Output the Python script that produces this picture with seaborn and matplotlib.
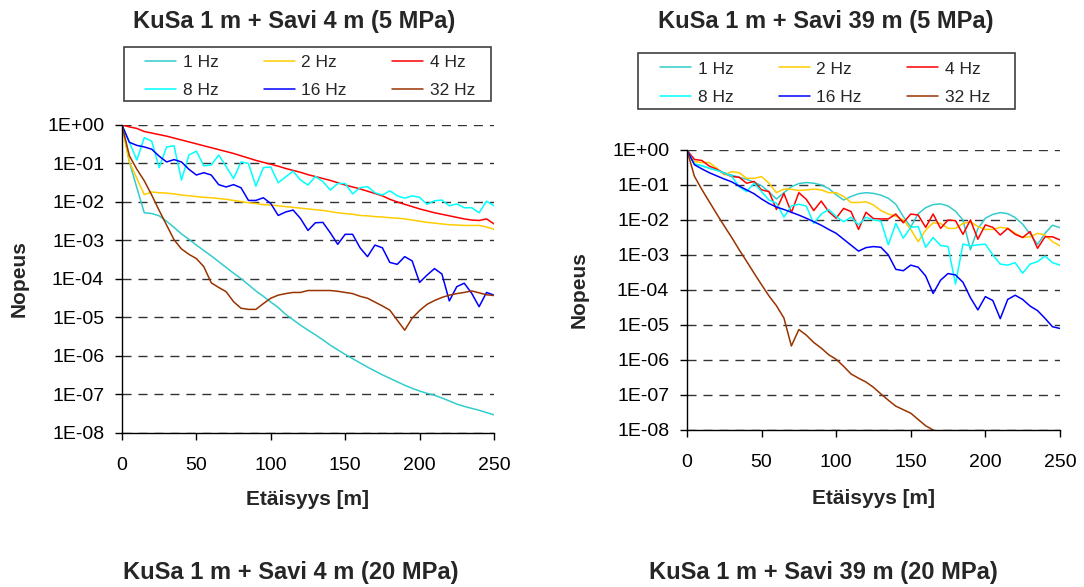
import numpy as np
import pandas as pd
import matplotlib
matplotlib.use("Agg")
import matplotlib.pyplot as plt
from matplotlib.patches import Rectangle
from matplotlib.ticker import FixedLocator, FuncFormatter, NullLocator
import seaborn as sns

# Etäisyys [m], 5 m välein
dist = list(range(0, 255, 5))
freqs = ["1 Hz", "2 Hz", "4 Hz", "8 Hz", "16 Hz", "32 Hz"]
colors = ["#33CCCC", "#FFCC00", "#FF0000", "#00FFFF", "#0000FF", "#993300"]

# log10(nopeus), KuSa 1 m + Savi 4 m (5 MPa)
a_1hz = [0.00, -0.96, -1.63, -2.28, -2.30, -2.36, -2.50, -2.66, -2.83, -2.97,
         -3.12, -3.26, -3.40, -3.55, -3.70, -3.85, -3.99, -4.15, -4.31, -4.45,
         -4.60, -4.74, -4.92, -5.06, -5.20, -5.33, -5.45, -5.58, -5.72, -5.84,
         -5.96, -6.07, -6.18, -6.29, -6.39, -6.49, -6.58, -6.67, -6.76, -6.84,
         -6.91, -6.97, -7.02, -7.09, -7.17, -7.25, -7.31, -7.36, -7.41, -7.47,
         -7.53]
a_2hz = [0.00, -0.96, -1.39, -1.81, -1.74, -1.76, -1.77, -1.79, -1.82, -1.84,
         -1.86, -1.88, -1.89, -1.91, -1.93, -1.96, -1.99, -2.02, -2.04, -2.07,
         -2.08, -2.10, -2.12, -2.14, -2.16, -2.18, -2.20, -2.22, -2.25, -2.28,
         -2.30, -2.32, -2.35, -2.36, -2.38, -2.39, -2.41, -2.42, -2.44, -2.47,
         -2.50, -2.53, -2.55, -2.57, -2.59, -2.60, -2.61, -2.61, -2.61, -2.65,
         -2.71]
a_4hz = [0.00, -0.05, -0.09, -0.17, -0.21, -0.25, -0.29, -0.34, -0.39, -0.44,
         -0.49, -0.54, -0.59, -0.64, -0.69, -0.74, -0.80, -0.86, -0.92, -0.97,
         -1.02, -1.07, -1.13, -1.18, -1.23, -1.29, -1.34, -1.39, -1.44, -1.50,
         -1.56, -1.61, -1.66, -1.72, -1.78, -1.84, -1.93, -2.00, -2.06, -2.12,
         -2.18, -2.23, -2.28, -2.32, -2.36, -2.40, -2.44, -2.47, -2.48, -2.44,
         -2.57]
a_8hz = [0.00, -0.45, -0.91, -0.33, -0.42, -1.11, -0.57, -0.54, -1.43, -0.78,
         -0.68, -1.06, -1.04, -0.78, -1.08, -1.39, -0.96, -1.00, -1.59, -1.11,
         -1.09, -1.50, -1.35, -1.20, -1.43, -1.56, -1.34, -1.47, -1.69, -1.52,
         -1.52, -1.79, -1.63, -1.60, -1.76, -1.82, -1.71, -1.84, -1.90, -1.84,
         -1.88, -2.06, -1.97, -1.95, -2.10, -2.05, -2.15, -2.15, -2.28, -1.98,
         -2.10]
a_16hz = [0.00, -0.45, -0.53, -0.57, -0.63, -0.81, -0.96, -0.90, -0.96, -1.15,
          -1.30, -1.24, -1.30, -1.55, -1.61, -1.55, -1.63, -1.96, -1.96, -1.89,
          -2.04, -2.35, -2.26, -2.21, -2.43, -2.74, -2.54, -2.53, -2.80, -3.10,
          -2.84, -2.84, -3.19, -3.42, -3.12, -3.19, -3.57, -3.62, -3.42, -3.53,
          -4.09, -3.90, -3.73, -3.87, -4.57, -4.20, -4.11, -4.37, -4.72, -4.35,
          -4.42]
a_32hz = [0.00, -0.80, -1.15, -1.45, -1.82, -2.22, -2.60, -2.98, -3.22, -3.36,
          -3.47, -3.68, -4.10, -4.22, -4.33, -4.59, -4.76, -4.79, -4.79, -4.64,
          -4.50, -4.42, -4.38, -4.35, -4.35, -4.30, -4.30, -4.30, -4.30, -4.32,
          -4.35, -4.38, -4.45, -4.50, -4.60, -4.70, -4.81, -5.07, -5.33, -5.02,
          -4.82, -4.66, -4.56, -4.48, -4.42, -4.38, -4.35, -4.31, -4.36, -4.41,
          -4.43]

# log10(nopeus), KuSa 1 m + Savi 39 m (5 MPa)
b_1hz = [0.00, -0.40, -0.45, -0.52, -0.58, -0.65, -0.72, -0.78, -0.84, -0.92,
         -1.02, -1.20, -1.40, -1.22, -1.05, -0.96, -0.93, -0.95, -1.00, -1.10,
         -1.28, -1.43, -1.33, -1.25, -1.22, -1.24, -1.29, -1.38, -1.55, -1.90,
         -2.20, -1.82, -1.65, -1.56, -1.54, -1.60, -1.75, -2.00, -2.85, -2.25,
         -1.95, -1.84, -1.79, -1.82, -1.93, -2.12, -2.40, -2.70, -2.38, -2.15,
         -2.22]
b_2hz = [0.00, -0.33, -0.36, -0.36, -0.52, -0.71, -0.62, -0.65, -0.81, -0.81,
         -0.76, -0.95, -1.22, -1.12, -1.12, -1.16, -1.14, -1.12, -1.14, -1.22,
         -1.22, -1.33, -1.50, -1.50, -1.48, -1.57, -1.73, -1.83, -1.89, -2.00,
         -2.27, -2.62, -2.29, -2.08, -2.10, -2.24, -2.24, -2.10, -2.05, -2.19,
         -2.27, -2.27, -2.21, -2.24, -2.38, -2.50, -2.48, -2.38, -2.43, -2.62,
         -2.74]
b_4hz = [0.00, -0.27, -0.30, -0.46, -0.55, -0.67, -0.76, -0.78, -0.95, -0.90,
         -1.14, -1.19, -1.70, -1.24, -1.79, -1.22, -1.41, -1.73, -1.46, -1.76,
         -1.95, -1.67, -1.76, -2.27, -1.78, -1.96, -1.97, -1.97, -1.83, -2.08,
         -1.83, -1.86, -2.21, -1.83, -2.24, -2.00, -2.02, -2.41, -2.00, -2.55,
         -2.14, -2.21, -2.43, -2.24, -2.41, -2.50, -2.33, -2.81, -2.48, -2.48,
         -2.57]
b_8hz = [0.00, -0.40, -0.45, -0.52, -0.58, -0.66, -0.75, -1.05, -1.19, -0.95,
         -1.19, -1.43, -1.52, -1.92, -1.60, -1.55, -1.60, -2.10, -1.83, -1.70,
         -1.90, -2.05, -1.92, -2.14, -1.92, -2.00, -2.03, -2.71, -2.10, -2.52,
         -2.21, -2.19, -2.78, -2.50, -2.73, -2.76, -3.83, -2.69, -2.74, -2.71,
         -2.69, -3.00, -3.26, -3.29, -3.22, -3.52, -3.26, -3.19, -3.03, -3.22,
         -3.29]
b_16hz = [0.00, -0.42, -0.54, -0.65, -0.74, -0.83, -0.91, -1.03, -1.14, -1.25,
          -1.40, -1.53, -1.63, -1.70, -1.78, -1.86, -1.95, -2.05, -2.15, -2.27,
          -2.38, -2.55, -2.72, -2.89, -2.79, -2.76, -2.78, -3.00, -3.41, -3.45,
          -3.29, -3.35, -3.60, -4.10, -3.72, -3.53, -3.57, -3.78, -4.22, -4.57,
          -4.19, -4.30, -4.82, -4.27, -4.15, -4.27, -4.46, -4.59, -4.81, -5.05,
          -5.10]
# 32 Hz putoaa akselin alle (1E-08) n. 165 m kohdalla
b_32hz = [0.00, -0.75, -1.13, -1.48, -1.83, -2.17, -2.50, -2.85, -3.18, -3.52,
          -3.85, -4.17, -4.45, -4.80, -5.60, -5.13, -5.29, -5.50, -5.66, -5.85,
          -5.98, -6.18, -6.40, -6.52, -6.63, -6.78, -6.97, -7.15, -7.32, -7.42,
          -7.52, -7.70, -7.88, -8.00, -8.15]


def long_table(series):
    rows = []
    for f, lg in zip(freqs, series):
        for d, v in zip(dist, lg):
            rows.append((d, 10.0 ** v, f))
    return pd.DataFrame(rows, columns=["Etäisyys", "Nopeus", "Taajuus"])


def e_label(v, pos):
    return f"1E{int(round(np.log10(v))):+03d}"


def draw_panel(fig, rect, df, leg_anchor, box, xlab_y, ylab_x):
    ax = fig.add_axes(rect)
    sns.lineplot(data=df, x="Etäisyys", y="Nopeus", hue="Taajuus",
                 hue_order=freqs, palette=dict(zip(freqs, colors)),
                 estimator=None, sort=False, linewidth=1.1, ax=ax)
    ax.set_yscale("log")
    ax.set_ylim(1e-8, 1)
    ax.set_xlim(0, 250)
    ax.yaxis.set_major_locator(FixedLocator(10.0 ** np.arange(-8, 1)))
    ax.yaxis.set_minor_locator(NullLocator())
    ax.yaxis.set_major_formatter(FuncFormatter(e_label))
    ax.set_xticks([0, 50, 100, 150, 200, 250])
    ax.set_axisbelow(True)
    ax.grid(axis="y", color="#333333", linestyle=(0, (6.5, 5)), linewidth=1.0)
    ax.grid(axis="x", visible=False)
    sns.despine(ax=ax)
    for s in ["left", "bottom"]:
        ax.spines[s].set_color("black")
        ax.spines[s].set_linewidth(1.0)
    ax.tick_params(axis="x", length=4.8, width=1, pad=12.5, labelsize=14, colors="black")
    ax.tick_params(axis="y", length=4.8, width=1, pad=8, labelsize=14, colors="black")

    ax.set_xlabel("Etäisyys [m]", fontsize=15, fontweight="bold")
    ax.set_ylabel("Nopeus", fontsize=15, fontweight="bold")
    ax.xaxis.set_label_coords(0.5, xlab_y)
    ax.yaxis.set_label_coords(ylab_x, 0.5)

    handles, labels = ax.get_legend_handles_labels()
    ax.get_legend().remove()
    order = [0, 3, 1, 4, 2, 5]
    ax.legend([handles[i] for i in order], [labels[i] for i in order],
              ncol=3, loc="upper left", bbox_to_anchor=leg_anchor,
              bbox_transform=fig.transFigure, frameon=False, fontsize=12.5,
              handlelength=1.8, handletextpad=0.37, columnspacing=2.6,
              labelspacing=0.75, borderpad=0, borderaxespad=0)
    fig.add_artist(Rectangle(box[:2], box[2], box[3], transform=fig.transFigure,
                             fill=False, edgecolor="#404040", linewidth=1.2))
    return ax


sns.set_theme(style="ticks")
plt.rcParams["font.family"] = ["Liberation Sans", "DejaVu Sans"]

fig = plt.figure(figsize=(10.84, 5.87), dpi=100)

df_a = long_table([a_1hz, a_2hz, a_4hz, a_8hz, a_16hz, a_32hz])
df_b = long_table([b_1hz, b_2hz, b_4hz, b_8hz, b_16hz, b_32hz])

draw_panel(fig, [0.1125, 0.2624, 0.3432, 0.5247], df_a,
           (0.1338, 0.9063), (0.1144, 0.8279, 0.3386, 0.0920), -0.185, -0.25)
draw_panel(fig, [0.6337, 0.2675, 0.3441, 0.4770], df_b,
           (0.6089, 0.8954), (0.5886, 0.8143, 0.3478, 0.0954), -0.21, -0.263)

title_kw = dict(ha="center", va="center", fontsize=17, fontweight="bold")
fig.text(294 / 1084, 1 - 21.7 / 587, "KuSa 1 m + Savi 4 m (5 MPa)", **title_kw)
fig.text(826 / 1084, 1 - 21.7 / 587, "KuSa 1 m + Savi 39 m (5 MPa)", **title_kw)
fig.text(291 / 1084, 1 - 573 / 587, "KuSa 1 m + Savi 4 m (20 MPa)", **title_kw)
fig.text(823 / 1084, 1 - 573 / 587, "KuSa 1 m + Savi 39 m (20 MPa)", **title_kw)

fig.savefig("out.png", dpi=100)
